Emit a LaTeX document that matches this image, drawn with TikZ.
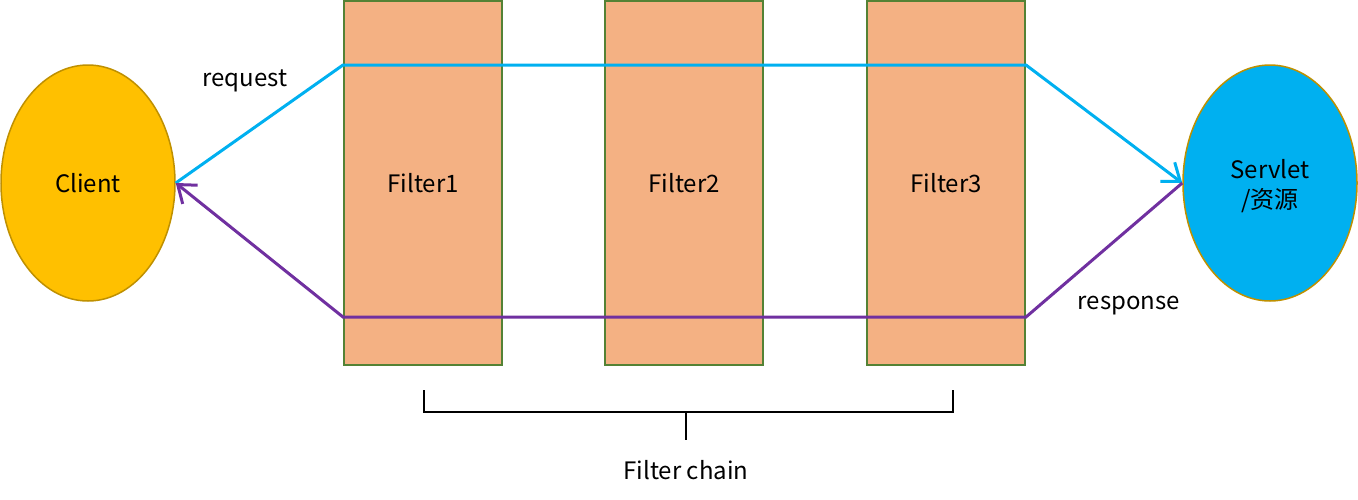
\documentclass[tikz,border=0pt]{standalone}
\usepackage{fontspec}
\setmainfont{Noto Sans CJK SC}
\usetikzlibrary{arrows.meta}
\definecolor{clientc}{HTML}{FFC000}
\definecolor{servc}{HTML}{00B0F0}
\definecolor{ellb}{HTML}{BF9000}
\definecolor{filtc}{HTML}{F4B183}
\definecolor{filtb}{HTML}{548235}
\definecolor{reqc}{HTML}{00B0F0}
\definecolor{resc}{HTML}{7030A0}
\tikzset{
  ell/.style={ellipse, draw=ellb, line width=1.5pt, minimum width=174pt, minimum height=236pt, inner sep=0pt, font=\fontsize{24}{30}\selectfont, align=center},
  filt/.style={rectangle, draw=filtb, fill=filtc, line width=2pt, minimum width=158pt, minimum height=364pt, inner sep=0pt, font=\fontsize{24}{30}\selectfont},
  lbl/.style={font=\fontsize{24}{30}\selectfont, inner sep=0pt},
  req/.style={draw=reqc, line width=3pt},
  res/.style={draw=resc, line width=3pt},
  tip/.style={-{Straight Barb[length=16pt,width=24pt,line width=3pt]}},
}
\usetikzlibrary{shapes.geometric}
\begin{document}
\begin{tikzpicture}[x=1pt,y=-1pt]
\useasboundingbox (0,0) rectangle (1358,499);
\node[ell, fill=clientc] (client) at (88,183) {Client};
\node[ell, fill=servc] (serv) at (1270,183) {};
\node[lbl, align=center] (servt) at (1270,186) {Servlet\\/资源};
\node[filt] (f1) at (423,183) {Filter1};
\node[filt] (f2) at (684,183) {Filter2};
\node[filt] (f3) at (946,183) {Filter3};
\coordinate (r1) at (f1.west |- 0,65);
\coordinate (r2) at (f3.east |- 0,65);
\coordinate (p1) at (f3.east |- 0,317);
\coordinate (p2) at (f1.west |- 0,317);
\draw[req, tip] (client.east) -- (r1) -- (r2) -- (serv.west);
\draw[res, tip] (serv.west) -- (p1) -- (p2) -- (client.east);
\node[lbl] (rq) at (245,81) {request};
\node[lbl] (rs) at (1129,306) {response};
\coordinate (b1) at (424,390);
\coordinate (b2) at (424,412);
\coordinate (b3) at (953,412);
\coordinate (b4) at (953,390);
\coordinate (bm) at (686,412);
\coordinate (bt) at (686,440);
\draw[line width=1.2pt] (b1) -- (b2) -- (b3) -- (b4);
\draw[line width=1.2pt] (bm) -- (bt);
\node[lbl] (fc) at (686,470) {Filter chain};
\end{tikzpicture}
\end{document}
